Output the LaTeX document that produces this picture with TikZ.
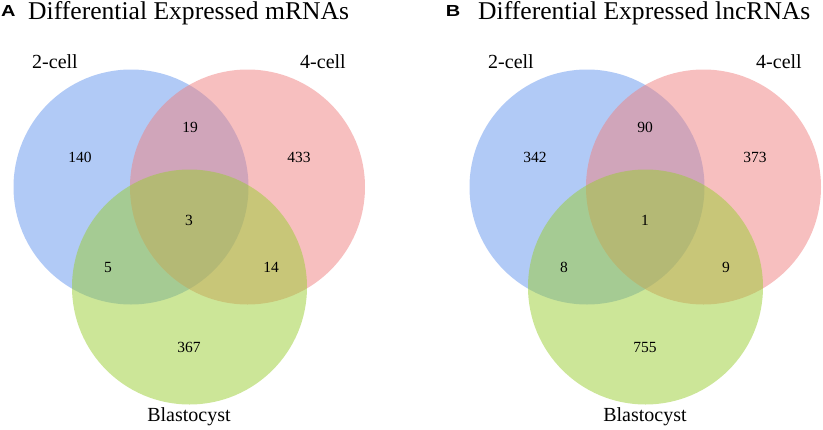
\documentclass[tikz,border=0pt]{standalone}
\usepackage{fontspec}
\setmainfont{Liberation Serif}
\newfontfamily\panelfont{Liberation Sans}
\definecolor{vblue}{RGB}{100,149,237}
\definecolor{vred}{RGB}{240,128,128}
\definecolor{vgreen}{RGB}{154,205,50}
\begin{document}
\begin{tikzpicture}[x=1pt,y=-1pt,
  setcircle/.style={circle, minimum size=235pt, inner sep=0pt, fill opacity=0.5, text opacity=1, draw=none},
  num/.style={inner sep=0pt, anchor=center, font=\fontsize{15.5}{18}\selectfont},
  setlabel/.style={inner sep=0pt, anchor=base, font=\fontsize{20}{24}\selectfont},
  titletext/.style={inner sep=0pt, anchor=base west, font=\fontsize{25.6}{30}\selectfont},
  panelletter/.style={inner sep=0pt, anchor=base west, font=\panelfont\bfseries\fontsize{16}{20}\selectfont, xscale=1.25, transform shape}]
\useasboundingbox (0,0) rectangle (823,429);
% Panel A
\node[panelletter] (pA) at (1,16.5) {A};
\node[titletext] (tA) at (28,19.5) {Differential Expressed mRNAs};
\node[setcircle, fill=vblue] (cA1) at (131,187) {};
\node[setcircle, fill=vred] (cA2) at (247.5,187) {};
\node[setcircle, fill=vgreen] (cA3) at (189.5,287) {};
\node[setlabel] (lA1) at (55,68) {2-cell};
\node[setlabel] (lA2) at (323,68) {4-cell};
\node[setlabel] (lA3) at (189,421) {Blastocyst};
\node[num] (nA1) at (80,157) {140};
\node[num] (nA2) at (190,127) {19};
\node[num] (nA3) at (299,157) {433};
\node[num] (nA4) at (189,220) {3};
\node[num] (nA5) at (108,267) {5};
\node[num] (nA6) at (271,267) {14};
\node[num] (nA7) at (189,347) {367};
% Panel B
\node[panelletter] (pB) at (445.5,16.5) {B};
\node[titletext] (tB) at (478,19.5) {Differential Expressed lncRNAs};
\node[setcircle, fill=vblue] (cB1) at (587,187) {};
\node[setcircle, fill=vred] (cB2) at (703.5,187) {};
\node[setcircle, fill=vgreen] (cB3) at (645.5,287) {};
\node[setlabel] (lB1) at (511,68) {2-cell};
\node[setlabel] (lB2) at (779,68) {4-cell};
\node[setlabel] (lB3) at (645,421) {Blastocyst};
\node[num] (nB1) at (535,157) {342};
\node[num] (nB2) at (645,127) {90};
\node[num] (nB3) at (755,157) {373};
\node[num] (nB4) at (645,220) {1};
\node[num] (nB5) at (564,267) {8};
\node[num] (nB6) at (726,267) {9};
\node[num] (nB7) at (645,347) {755};
\end{tikzpicture}
\end{document}
